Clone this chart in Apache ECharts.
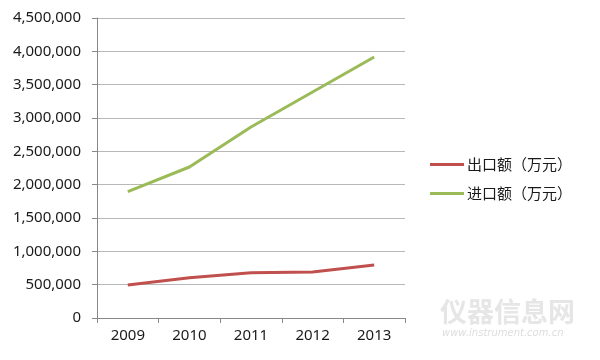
<!DOCTYPE html>
<html><head><meta charset="utf-8">
<script src="https://cdn.jsdelivr.net/npm/echarts@6/dist/echarts.min.js"></script>
<style>html,body{margin:0;padding:0;background:#fff}#c{width:600px;height:360px}</style>
</head><body><div id="c"></div>
<script>
var categories = ['2009','2010','2011','2012','2013'];
var exportValues = [495000, 605000, 680000, 690000, 795000];
var importValues = [1895000, 2265000, 2865000, 3390000, 3915000];
var seriesNames = ['出口额（万元）','进口额（万元）'];
var chart = echarts.init(document.getElementById('c'));
var font = "'Noto Sans', 'Noto Sans CJK SC', sans-serif";
chart.setOption({
  animation:false,
  textStyle:{fontFamily:font},
  grid:{left:97,right:195,top:18,bottom:42,containLabel:false},
  legend:{orient:'vertical',left:430,top:157,padding:0,itemWidth:34,itemHeight:3,itemGap:14,
    icon:'rect',
    textStyle:{fontSize:15,color:'#1a1a1a',fontFamily:"'Noto Sans CJK SC', sans-serif",padding:[0,0,0,-2]},
    data:seriesNames},
  xAxis:{type:'category',data:categories,boundaryGap:true,
    axisLine:{lineStyle:{color:'#888'}},
    axisTick:{show:true,length:5,lineStyle:{color:'#888'}},
    axisLabel:{fontSize:15,color:'#1a1a1a',margin:10}},
  yAxis:{type:'value',min:0,max:4500000,interval:500000,
    axisLine:{show:true,lineStyle:{color:'#888'}},
    axisTick:{show:true,length:5,lineStyle:{color:'#888'}},
    splitLine:{lineStyle:{color:'#b8b8b8'}},
    axisLabel:{fontSize:15,color:'#1a1a1a',margin:16,
      formatter:function(v){return v.toString().replace(/\B(?=(\d{3})+(?!\d))/g,',');}}},
  series:[
    {name:seriesNames[0],type:'line',data:exportValues,symbol:'none',lineStyle:{width:3,color:'#C0504D'},itemStyle:{color:'#C0504D'}},
    {name:seriesNames[1],type:'line',data:importValues,symbol:'none',lineStyle:{width:3,color:'#9BBB59'},itemStyle:{color:'#9BBB59'}}
  ],
  graphic:[
    {type:'text',left:440,top:298,style:{text:'仪器信息网',fontSize:27,fontWeight:'bold',fill:'#e6e6e6',fontFamily:"'Noto Sans CJK SC', sans-serif"}},
    {type:'text',left:442,top:328,style:{text:'www.instrument.com.cn',fontSize:10,fontStyle:'italic',fill:'#dddddd',fontFamily:"'DejaVu Sans', sans-serif"}}
  ]
});
</script></body></html>
